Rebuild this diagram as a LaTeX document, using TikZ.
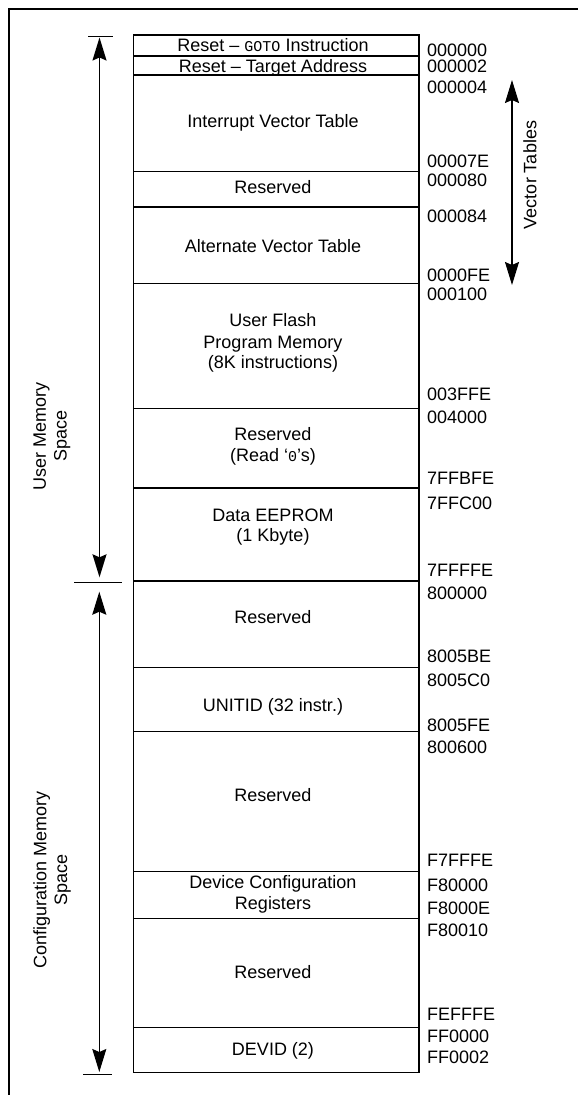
\documentclass[tikz,border=0pt]{standalone}
\usepackage{fontspec}
\setmainfont{Liberation Sans}
\newfontfamily\monofnt{Liberation Mono}
\usetikzlibrary{arrows.meta}
\begin{document}
\begin{tikzpicture}[x=1pt,y=-1pt,
  rowbox/.style={draw, line width=1.6pt, inner sep=0pt, anchor=north west, minimum width=285.6pt},
  txt/.style={font=\fontsize{18}{20.8}\selectfont, inner sep=0pt, anchor=base},
  addr/.style={font=\fontsize{18}{20.8}\selectfont, inner sep=0pt, anchor=west},
  side/.style={font=\fontsize{18}{20.8}\selectfont, inner sep=0pt, align=center, rotate=90},
  dimarrow/.style={line width=1.5pt, {Stealth[length=23pt,width=14pt,inset=3pt]}-{Stealth[length=23pt,width=14pt,inset=3pt]}},
  tickline/.style={line width=1.5pt},
  frameline/.style={line width=1.5pt}]
\useasboundingbox (0,0) rectangle (578,1095);
% outer frame (top and left sides visible)
\coordinate (ftr) at (578,9);
\coordinate (ftl) at (9,9);
\coordinate (fbl) at (9,1095);
\draw[frameline] (ftr) -- (ftl) -- (fbl);
% memory rows
\foreach \n/\t/\b in {goto/34.3/55, tgt/55/74, ivt/74/170.7, resa/170.7/206,
  avt/206/282.7, flash/282.7/407.7, resb/407.7/487.3, eep/487.3/580,
  resc/580/666.7, unit/666.7/730.7, resd/730.7/870.7, dcr/870.7/917.7,
  rese/917.7/1026.7, devid/1026.7/1071.7}{
  \pgfmathsetmacro\h{\b-\t}
  \node[rowbox, minimum height=\h pt] (\n) at (132.7,\t) {};
}
% row texts
\node[txt] (tgoto) at (273,51.4) {Reset -- {\monofnt\fontsize{15}{15}\selectfont GOTO} Instruction};
\node[txt] (ttgt) at (273,72.1) {Reset -- Target Address};
\node[txt] (tivt) at (273,127.1) {Interrupt Vector Table};
\node[txt] (tresa) at (273,193.7) {Reserved};
\node[txt] (tavt) at (273,252.4) {Alternate Vector Table};
\node[txt] (tfla) at (273,326.4) {User Flash};
\node[txt] (tflb) at (273,348.1) {Program Memory};
\node[txt] (tflc) at (273,368.1) {(8K instructions)};
\node[txt] (tresb) at (273,440.4) {Reserved};
\node[txt] (tresbb) at (273,461.4) {(Read `{\monofnt\fontsize{15}{15}\selectfont 0}'s)};
\node[txt] (teepa) at (273,521.4) {Data EEPROM};
\node[txt] (teepb) at (273,541.4) {(1 Kbyte)};
\node[txt] (tresc) at (273,623.1) {Reserved};
\node[txt] (tunit) at (273,711.4) {UNITID (32 instr.)};
\node[txt] (tresd) at (273,801.4) {Reserved};
\node[txt] (tdcra) at (273,888.7) {Device Configuration};
\node[txt] (tdcrb) at (273,909.1) {Registers};
\node[txt] (trese) at (273,978.1) {Reserved};
\node[txt] (tdevid) at (273,1055.7) {DEVID (2)};
% addresses
\foreach \a/\y in {000000/50, 000002/66.7, 000004/87.3, 00007E/161.7, 000080/180,
  000084/216.7, 0000FE/275, 000100/294, 003FFE/394.3, 004000/417.7,
  7FFBFE/478.3, 7FFC00/503.3, 7FFFFE/570, 800000/593.3, 8005BE/656,
  8005C0/680.7, 8005FE/725, 800600/747.3, F7FFFE/860, F80000/885,
  F8000E/908.3, F80010/930.7, FEFFFE/1014.3, FF0000/1036.7, FF0002/1057.7}{
  \node[addr] (a\a) at (426.8,\y) {\a};
}
% user memory space arrow
\coordinate (uta) at (88,36.7);
\coordinate (utb) at (113,36.7);
\coordinate (mta) at (74,582.7);
\coordinate (mtb) at (122,582.7);
\coordinate (bta) at (83,1074.3);
\coordinate (btb) at (112,1074.3);
\draw[tickline] (uta) -- (utb);
\draw[tickline] (mta) -- (mtb);
\draw[tickline] (bta) -- (btb);
\coordinate (usertop) at (99.5,37.5);
\coordinate (userbot) at (99.5,577.3);
\coordinate (cfgtop) at (99.3,591.7);
\coordinate (cfgbot) at (99.3,1072);
\draw[dimarrow] (usertop) -- (userbot);
\draw[dimarrow] (cfgtop) -- (cfgbot);
\node[side] (luser) at (52,436) {User Memory\\Space};
\node[side] (lcfg) at (52,880) {Configuration Memory\\Space};
% vector tables arrow
\coordinate (vtop) at (512,80);
\coordinate (vbot) at (512,285);
\draw[dimarrow] (vtop) -- (vbot);
\node[side, anchor=center] (lvec) at (530,175) {Vector Tables};
\end{tikzpicture}
\end{document}
